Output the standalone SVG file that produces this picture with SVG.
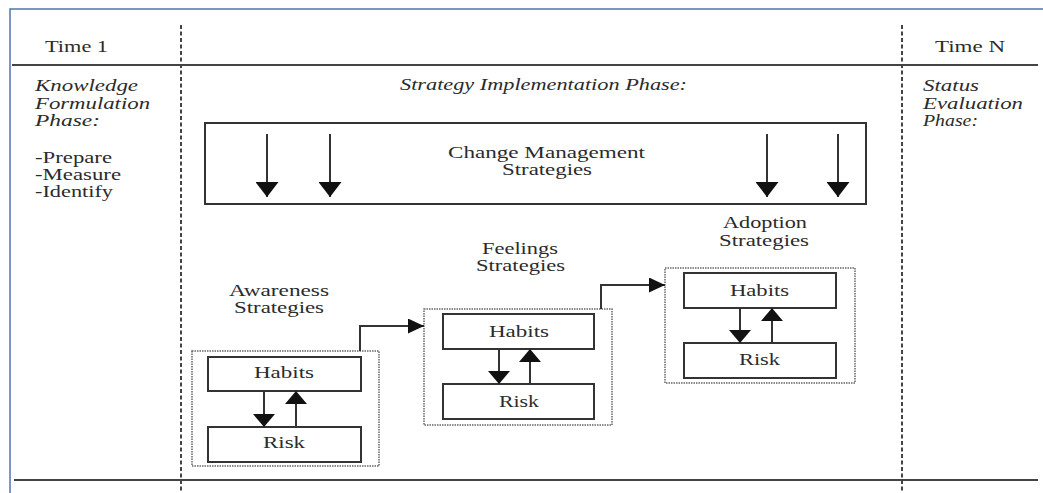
<svg xmlns="http://www.w3.org/2000/svg" width="1043" height="493" viewBox="0 0 1043 493" font-family="'Liberation Serif', 'Times New Roman', 'DejaVu Serif', serif">
  <style>
    text { font-family: 'Liberation Serif', 'Times New Roman', 'DejaVu Serif', serif; font-size: 16px; fill: #2b2b2b; }
    .it { font-style: italic; }
    .frame { stroke: #4f76ad; stroke-width: 1.5; fill: none; }
    .rule { stroke: #444; stroke-width: 2; fill: none; }
    .divider { stroke: #444; stroke-width: 2; stroke-dasharray: 4 2.5; fill: none; }
    .box { stroke: #333; stroke-width: 2; fill: #fff; }
    .group { stroke: #666; stroke-width: 1.5; stroke-dasharray: 1.5 1; fill: none; }
    .wire { stroke: #333; stroke-width: 2; fill: none; }
  </style>
  <defs>
    <marker id="headBig" markerUnits="userSpaceOnUse" markerWidth="15" markerHeight="23" refX="15" refY="11.5" orient="auto">
      <path d="M0,0 L15,11.5 L0,23 z" fill="#111"/>
    </marker>
    <marker id="headSmall" markerUnits="userSpaceOnUse" markerWidth="13" markerHeight="22" refX="13" refY="11" orient="auto">
      <path d="M0,0 L13,11 L0,22 z" fill="#111"/>
    </marker>
    <marker id="headLink" markerUnits="userSpaceOnUse" markerWidth="16" markerHeight="15" refX="16" refY="7.5" orient="auto">
      <path d="M0,0 L16,7.5 L0,15 z" fill="#111"/>
    </marker>
  </defs>

  <rect width="1043" height="493" fill="#fff"/>

  <!-- page frame and timeline rules -->
  <g id="frame">
    <path class="frame" d="M10,493 V9 H1043"/>
    <path class="rule" d="M12,65 H1038"/>
    <path class="rule" d="M14,480 H1038"/>
    <path class="divider" d="M181,25 V493"/>
    <path class="divider" d="M902,25 V493"/>
  </g>

  <!-- column headers -->
  <g id="time-1">
    <text x="45" y="52" textLength="63" lengthAdjust="spacingAndGlyphs">Time 1</text>
  </g>
  <g id="time-n">
    <text x="935" y="52" textLength="70" lengthAdjust="spacingAndGlyphs">Time N</text>
  </g>

  <!-- left column: knowledge formulation -->
  <g id="knowledge-phase">
    <text class="it" x="35" y="91" textLength="103" lengthAdjust="spacingAndGlyphs">Knowledge</text>
    <text class="it" x="35" y="109" textLength="115" lengthAdjust="spacingAndGlyphs">Formulation</text>
    <text class="it" x="35" y="126" textLength="65" lengthAdjust="spacingAndGlyphs">Phase:</text>
    <text x="35" y="163" textLength="77" lengthAdjust="spacingAndGlyphs">-Prepare</text>
    <text x="35" y="180" textLength="86" lengthAdjust="spacingAndGlyphs">-Measure</text>
    <text x="35" y="197" textLength="78" lengthAdjust="spacingAndGlyphs">-Identify</text>
  </g>

  <!-- middle column title -->
  <g id="implementation-phase">
    <text class="it" x="400" y="90" textLength="287" lengthAdjust="spacingAndGlyphs">Strategy Implementation Phase:</text>
  </g>

  <!-- right column: status evaluation -->
  <g id="evaluation-phase">
    <text class="it" x="923" y="91" textLength="56" lengthAdjust="spacingAndGlyphs">Status</text>
    <text class="it" x="923" y="109" textLength="100" lengthAdjust="spacingAndGlyphs">Evaluation</text>
    <text class="it" x="923" y="126" textLength="55" lengthAdjust="spacingAndGlyphs">Phase:</text>
  </g>

  <!-- change management band -->
  <g id="change-management">
    <rect class="box" x="205" y="123" width="661" height="81"/>
    <text x="448" y="158" textLength="197" lengthAdjust="spacingAndGlyphs">Change Management</text>
    <text x="502" y="175" textLength="90" lengthAdjust="spacingAndGlyphs">Strategies</text>
    <path class="wire" d="M267,134 V197" marker-end="url(#headBig)"/>
    <path class="wire" d="M330,134 V197" marker-end="url(#headBig)"/>
    <path class="wire" d="M767,134 V197" marker-end="url(#headBig)"/>
    <path class="wire" d="M838,134 V197" marker-end="url(#headBig)"/>
  </g>

  <!-- awareness stage -->
  <g id="awareness">
    <text x="229" y="296" textLength="100" lengthAdjust="spacingAndGlyphs">Awareness</text>
    <text x="234" y="313" textLength="90" lengthAdjust="spacingAndGlyphs">Strategies</text>
    <rect class="group" x="192" y="351" width="187" height="115"/>
    <rect class="box" x="208" y="357" width="153" height="34"/>
    <text x="254" y="378" textLength="60" lengthAdjust="spacingAndGlyphs">Habits</text>
    <rect class="box" x="208" y="427" width="153" height="35"/>
    <text x="263" y="448" textLength="42" lengthAdjust="spacingAndGlyphs">Risk</text>
    <path class="wire" d="M264,391 V427" marker-end="url(#headSmall)"/>
    <path class="wire" d="M296,427 V391" marker-end="url(#headSmall)"/>
  </g>

  <!-- feelings stage -->
  <g id="feelings">
    <text x="482" y="254" textLength="76" lengthAdjust="spacingAndGlyphs">Feelings</text>
    <text x="476" y="271" textLength="89" lengthAdjust="spacingAndGlyphs">Strategies</text>
    <rect class="group" x="424" y="309" width="188" height="116"/>
    <rect class="box" x="443" y="314" width="151" height="35"/>
    <text x="489" y="337" textLength="60" lengthAdjust="spacingAndGlyphs">Habits</text>
    <rect class="box" x="443" y="384" width="151" height="35"/>
    <text x="499" y="407" textLength="40" lengthAdjust="spacingAndGlyphs">Risk</text>
    <path class="wire" d="M499,349 V384" marker-end="url(#headSmall)"/>
    <path class="wire" d="M530,384 V349" marker-end="url(#headSmall)"/>
  </g>

  <!-- adoption stage -->
  <g id="adoption">
    <text x="723" y="228" textLength="84" lengthAdjust="spacingAndGlyphs">Adoption</text>
    <text x="719" y="246" textLength="90" lengthAdjust="spacingAndGlyphs">Strategies</text>
    <rect class="group" x="665" y="268" width="190" height="115"/>
    <rect class="box" x="684" y="273" width="152" height="35"/>
    <text x="730" y="296" textLength="59" lengthAdjust="spacingAndGlyphs">Habits</text>
    <rect class="box" x="684" y="343" width="152" height="35"/>
    <text x="739" y="365" textLength="41" lengthAdjust="spacingAndGlyphs">Risk</text>
    <path class="wire" d="M740,308 V343" marker-end="url(#headSmall)"/>
    <path class="wire" d="M772,343 V308" marker-end="url(#headSmall)"/>
  </g>

  <!-- stage-to-stage connectors -->
  <g id="connectors">
    <path class="wire" d="M360,351 V326 H424" marker-end="url(#headLink)"/>
    <path class="wire" d="M601,309 V285 H665" marker-end="url(#headLink)"/>
  </g>
</svg>
